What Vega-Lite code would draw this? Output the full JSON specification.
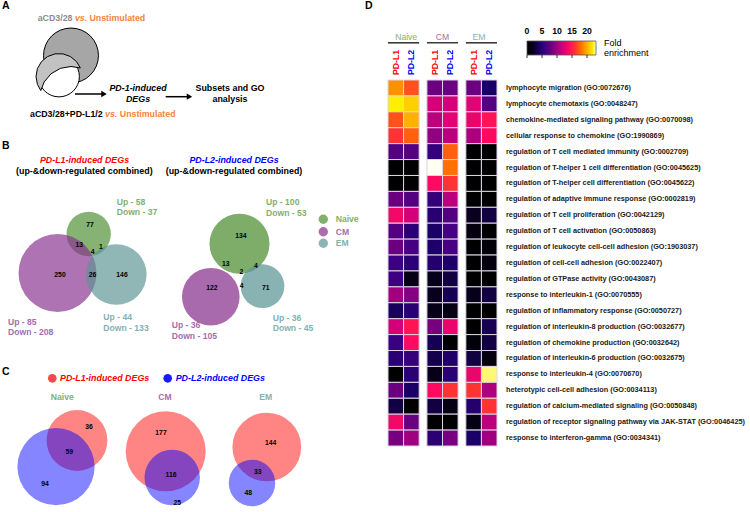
{
"$schema": "https://vega.github.io/schema/vega-lite/v6.json",
"width": 750, "height": 512, "autosize": "none", "padding": 0, "background": "white",
"config": {"font": "Liberation Sans", "view": {"stroke": null}, "axis": {"disable": true}, "legend": {"disable": true}},
"resolve": {"scale": {"x": "independent", "y": "independent", "color": "independent", "size": "independent", "xOffset": "independent"}},
"datasets": {
"heat": [
{"t":"lymphocyte migration (GO:0072676)","nL1":19,"nL2":17,"cL1":8,"cL2":8,"eL1":8,"eL2":4},
{"t":"lymphocyte chemotaxis (GO:0048247)","nL1":22,"nL2":21,"cL1":12,"cL2":12,"eL1":12.5,"eL2":7},
{"t":"chemokine-mediated signaling pathway (GO:0070098)","nL1":17,"nL2":20,"cL1":11,"cL2":12.5,"eL1":13,"eL2":14.5},
{"t":"cellular response to chemokine (GO:1990869)","nL1":16,"nL2":17.5,"cL1":9.5,"cL2":11,"eL1":10.5,"eL2":14},
{"t":"regulation of T cell mediated immunity (GO:0002709)","nL1":7,"nL2":7,"cL1":5.5,"cL2":17.5,"eL1":0,"eL2":0},
{"t":"regulation of T-helper 1 cell differentiation (GO:0045625)","nL1":0,"nL2":0,"cL1":23,"cL2":18,"eL1":0,"eL2":0},
{"t":"regulation of T-helper cell differentiation (GO:0045622)","nL1":0,"nL2":0,"cL1":14,"cL2":16,"eL1":0,"eL2":0},
{"t":"regulation of adaptive immune response (GO:0002819)","nL1":8,"nL2":7,"cL1":5.5,"cL2":11,"eL1":0,"eL2":0},
{"t":"regulation of T cell proliferation (GO:0042129)","nL1":13.5,"nL2":12,"cL1":4.8,"cL2":7,"eL1":2,"eL2":3},
{"t":"regulation of T cell activation (GO:0050863)","nL1":7,"nL2":5,"cL1":4,"cL2":6.5,"eL1":1,"eL2":0},
{"t":"regulation of leukocyte cell-cell adhesion (GO:1903037)","nL1":8,"nL2":6.5,"cL1":4.2,"cL2":6.5,"eL1":0,"eL2":0.5},
{"t":"regulation of cell-cell adhesion (GO:0022407)","nL1":6,"nL2":5,"cL1":4.5,"cL2":4.3,"eL1":0,"eL2":1},
{"t":"regulation of GTPase activity (GO:0043087)","nL1":6,"nL2":1.5,"cL1":1.8,"cL2":3,"eL1":0,"eL2":0},
{"t":"response to interleukin-1 (GO:0070555)","nL1":10,"nL2":9,"cL1":2,"cL2":3.5,"eL1":1.8,"eL2":3},
{"t":"regulation of inflammatory response (GO:0050727)","nL1":3.8,"nL2":4.8,"cL1":1.6,"cL2":1.4,"eL1":0,"eL2":0},
{"t":"regulation of interleukin-8 production (GO:0032677)","nL1":12,"nL2":14.5,"cL1":8.5,"cL2":13,"eL1":0,"eL2":3.5},
{"t":"regulation of chemokine production (GO:0032642)","nL1":5.8,"nL2":14,"cL1":3.5,"cL2":0,"eL1":0.5,"eL2":3},
{"t":"regulation of interleukin-6 production (GO:0032675)","nL1":5,"nL2":5.5,"cL1":3.3,"cL2":4.3,"eL1":3,"eL2":1},
{"t":"response to interleukin-4 (GO:0070670)","nL1":0,"nL2":5,"cL1":1.6,"cL2":5,"eL1":13,"eL2":22.5},
{"t":"heterotypic cell-cell adhesion (GO:0034113)","nL1":8,"nL2":4,"cL1":14,"cL2":16,"eL1":16,"eL2":10.5},
{"t":"regulation of calcium-mediated signaling (GO:0050848)","nL1":3,"nL2":0,"cL1":3,"cL2":1.4,"eL1":4.5,"eL2":16},
{"t":"regulation of receptor signaling pathway via JAK-STAT (GO:0046425)","nL1":13.5,"nL2":8,"cL1":0,"cL2":0,"eL1":1.4,"eL2":11},
{"t":"response to interferon-gamma (GO:0034341)","nL1":8.5,"nL2":10,"cL1":5,"cL2":8.5,"eL1":4,"eL2":10}
],
"cols": [
{"key":"nL1","s":"Naive","lig":"PD-L1"},{"key":"nL2","s":"Naive","lig":"PD-L2"},
{"key":"cL1","s":"CM","lig":"PD-L1"},{"key":"cL2","s":"CM","lig":"PD-L2"},
{"key":"eL1","s":"EM","lig":"PD-L1"},{"key":"eL2","s":"EM","lig":"PD-L2"}
],
"venn": [
{"v":"BL","set":"Naive","n":95,"x":88.7,"y":234},
{"v":"BL","set":"CM","n":293,"x":57.5,"y":273},
{"v":"BL","set":"EM","n":177,"x":116.3,"y":274.5},
{"v":"BR","set":"Naive","n":153,"x":239.5,"y":243.8},
{"v":"BR","set":"CM","n":141,"x":210.8,"y":296.7},
{"v":"BR","set":"EM","n":81,"x":262.5,"y":286.2},
{"v":"CN","set":"PD-L1","n":95,"x":77,"y":440.5},
{"v":"CN","set":"PD-L2","n":153,"x":56,"y":466.7},
{"v":"CC","set":"PD-L1","n":293,"x":165.7,"y":451.3},
{"v":"CC","set":"PD-L2","n":141,"x":172.2,"y":477.5},
{"v":"CE","set":"PD-L1","n":177,"x":266.8,"y":447},
{"v":"CE","set":"PD-L2","n":81,"x":252,"y":483}
],
"notes": [
{"grp":"letter","x":2,"y":6,"text":"A","key":"black"},
{"grp":"letter","x":2,"y":146,"text":"B","key":"black"},
{"grp":"letter","x":2,"y":372,"text":"C","key":"black"},
{"grp":"letter","x":365,"y":6,"text":"D","key":"black"},
{"grp":"boldL","x":37.7,"y":18.3,"text":"aCD3/28","key":"stim"},
{"grp":"boldL","x":89.5,"y":18.3,"text":"Unstimulated","key":"vs"},
{"grp":"boldL","x":30,"y":114,"text":"aCD3/28+PD-L1/2","key":"black"},
{"grp":"boldL","x":119.8,"y":114,"text":"Unstimulated","key":"vs"},
{"grp":"italL","x":74.9,"y":18.3,"text":"vs.","key":"vs"},
{"grp":"italL","x":105,"y":114,"text":"vs.","key":"vs"},
{"grp":"italL","x":60,"y":378.3,"text":"PD-L1-induced DEGs","key":"PD-L1"},
{"grp":"italL","x":175.7,"y":378.3,"text":"PD-L2-induced DEGs","key":"PD-L2"},
{"grp":"italC","x":138,"y":88.3,"text":"PD-1-induced","key":"black"},
{"grp":"italC","x":138,"y":99,"text":"DEGs","key":"black"},
{"grp":"italC","x":84.5,"y":160,"text":"PD-L1-induced DEGs","key":"PD-L1"},
{"grp":"italC","x":234,"y":160,"text":"PD-L2-induced DEGs","key":"PD-L2"},
{"grp":"boldC","x":230,"y":88.3,"text":"Subsets and GO","key":"black"},
{"grp":"boldC","x":230,"y":99,"text":"analysis","key":"black"},
{"grp":"boldC","x":84.3,"y":171,"text":"(up-&down-regulated combined)","key":"black"},
{"grp":"boldC","x":234,"y":171,"text":"(up-&down-regulated combined)","key":"black"},
{"grp":"num","x":90,"y":225,"text":"77","key":"black"},
{"grp":"num","x":79.3,"y":245,"text":"13","key":"black"},
{"grp":"num","x":101,"y":247.3,"text":"1","key":"black"},
{"grp":"num","x":92.7,"y":251.7,"text":"4","key":"black"},
{"grp":"num","x":60,"y":275,"text":"250","key":"black"},
{"grp":"num","x":92.5,"y":275,"text":"26","key":"black"},
{"grp":"num","x":122,"y":274.5,"text":"146","key":"black"},
{"grp":"num","x":240.8,"y":236,"text":"134","key":"black"},
{"grp":"num","x":225.8,"y":264,"text":"13","key":"black"},
{"grp":"num","x":255.8,"y":266,"text":"4","key":"black"},
{"grp":"num","x":241.5,"y":272,"text":"2","key":"black"},
{"grp":"num","x":211.8,"y":288.3,"text":"122","key":"black"},
{"grp":"num","x":241.7,"y":286.4,"text":"4","key":"black"},
{"grp":"num","x":265.8,"y":288.3,"text":"71","key":"black"},
{"grp":"num","x":89,"y":427,"text":"36","key":"black"},
{"grp":"num","x":69.3,"y":451.7,"text":"59","key":"black"},
{"grp":"num","x":45,"y":484.3,"text":"94","key":"black"},
{"grp":"num","x":161,"y":432.5,"text":"177","key":"black"},
{"grp":"num","x":171,"y":475,"text":"116","key":"black"},
{"grp":"num","x":177.3,"y":503,"text":"25","key":"black"},
{"grp":"num","x":270.7,"y":443,"text":"144","key":"black"},
{"grp":"num","x":257.7,"y":472,"text":"33","key":"black"},
{"grp":"num","x":248.3,"y":492.7,"text":"48","key":"black"},
{"grp":"updown","x":116.7,"y":201.5,"text":"Up - 58","key":"Naive"},
{"grp":"updown","x":116.7,"y":212.3,"text":"Down - 37","key":"Naive"},
{"grp":"updown","x":8,"y":321.7,"text":"Up - 85","key":"CM"},
{"grp":"updown","x":8,"y":332.3,"text":"Down - 208","key":"CM"},
{"grp":"updown","x":103.3,"y":317,"text":"Up - 44","key":"EM"},
{"grp":"updown","x":103.3,"y":327.5,"text":"Down - 133","key":"EM"},
{"grp":"updown","x":266,"y":202,"text":"Up - 100","key":"Naive"},
{"grp":"updown","x":266,"y":213,"text":"Down - 53","key":"Naive"},
{"grp":"updown","x":171.7,"y":325,"text":"Up - 36","key":"CM"},
{"grp":"updown","x":171.7,"y":335.7,"text":"Down - 105","key":"CM"},
{"grp":"updown","x":272.7,"y":317.5,"text":"Up - 36","key":"EM"},
{"grp":"updown","x":272.7,"y":328,"text":"Down - 45","key":"EM"},
{"grp":"legB","x":335.7,"y":219.3,"text":"Naive","key":"Naive"},
{"grp":"legB","x":335.7,"y":231.7,"text":"CM","key":"CM"},
{"grp":"legB","x":335.7,"y":243.3,"text":"EM","key":"EM"},
{"grp":"titleC","x":62.3,"y":397.3,"text":"Naive","key":"Naive"},
{"grp":"titleC","x":165,"y":397.3,"text":"CM","key":"CM"},
{"grp":"titleC","x":265.7,"y":397.3,"text":"EM","key":"EM"},
{"grp":"plainL","x":604,"y":43,"text":"Fold","key":"black"},
{"grp":"plainL","x":604,"y":53,"text":"enrichment","key":"black"}
]
},
"layer": [
{"data": {"values": [{"x":71,"y":55.5}]},
 "mark": {"type":"point","shape":"circle","filled":true,"size":3019,"color":"#a6a6a6","stroke":"#000000","strokeWidth":1,"opacity":1},
 "encoding": {"x": {"field":"x","type":"quantitative","scale":{"domain":[0,750],"nice":false,"zero":false}},
              "y": {"field":"y","type":"quantitative","scale":{"domain":[0,512],"nice":false,"zero":false,"reverse":true}}}},
{"data": {"values": [{"x":59,"y":76.5}]},
 "mark": {"type":"point","shape":"circle","filled":true,"size":1662,"color":"#ffffff","stroke":"#000000","strokeWidth":1,"opacity":1},
 "encoding": {"x": {"field":"x","type":"quantitative","scale":{"domain":[0,750],"nice":false,"zero":false}},
              "y": {"field":"y","type":"quantitative","scale":{"domain":[0,512],"nice":false,"zero":false,"reverse":true}}}},
{"data": {"values": [{"x":59,"y":76.5}]},
 "mark": {"type":"point","shape":"M0.928,-0.372L0.766,-0.643L0.5,-0.866L0.174,-0.985L-0.174,-0.985L-0.5,-0.866L-0.766,-0.643L-0.94,-0.342L-1,0L-0.94,0.342L-0.792,0.611L-0.645,0.239L-0.345,-0.12L0.061,-0.354L0.522,-0.435Z","filled":true,"size":2116,"color":"#c2c2c2","stroke":"#000000","strokeWidth":1,"opacity":1},
 "encoding": {"x": {"field":"x","type":"quantitative","scale":{"domain":[0,750],"nice":false,"zero":false}},
              "y": {"field":"y","type":"quantitative","scale":{"domain":[0,512],"nice":false,"zero":false,"reverse":true}}}},
{"data": {"values": [{"x":75,"x2":103,"y":94},{"x":165.7,"x2":188.5,"y":96.7}]},
 "mark": {"type":"rule","color":"#000000","strokeWidth":1.5},
 "encoding": {"x": {"field":"x","type":"quantitative","scale":{"domain":[0,750],"nice":false,"zero":false}},
              "x2": {"field":"x2"},
              "y": {"field":"y","type":"quantitative","scale":{"domain":[0,512],"nice":false,"zero":false,"reverse":true}}}},
{"data": {"values": [{"x":104,"y":94},{"x":189.5,"y":96.7}]},
 "mark": {"type":"point","shape":"triangle-right","filled":true,"size":40,"color":"#000000","opacity":1},
 "encoding": {"x": {"field":"x","type":"quantitative","scale":{"domain":[0,750],"nice":false,"zero":false}},
              "y": {"field":"y","type":"quantitative","scale":{"domain":[0,512],"nice":false,"zero":false,"reverse":true}}}},
{"data": {"name":"venn"}, "transform": [{"filter":"datum.v === 'BL'"}],
 "mark": {"type":"point","shape":"circle","filled":true,"opacity":0.68,"strokeWidth":0},
 "encoding": {"x": {"field":"x","type":"quantitative","scale":{"domain":[0,750],"nice":false,"zero":false}},
              "y": {"field":"y","type":"quantitative","scale":{"domain":[0,512],"nice":false,"zero":false,"reverse":true}},
              "size": {"field":"n","type":"quantitative","scale":{"type":"linear","domain":[0,100],"range":[0,2073]}},
              "color": {"field":"set","type":"nominal","scale":{"domain":["Naive","CM","EM"],"range":["#4c8d30","#86308d","#5b9494"]}}}},
{"data": {"name":"venn"}, "transform": [{"filter":"datum.v === 'BR'"}],
 "mark": {"type":"point","shape":"circle","filled":true,"opacity":0.72,"strokeWidth":0},
 "encoding": {"x": {"field":"x","type":"quantitative","scale":{"domain":[0,750],"nice":false,"zero":false}},
              "y": {"field":"y","type":"quantitative","scale":{"domain":[0,512],"nice":false,"zero":false,"reverse":true}},
              "size": {"field":"n","type":"quantitative","scale":{"type":"linear","domain":[0,100],"range":[0,2356]}},
              "color": {"field":"set","type":"nominal","scale":{"domain":["Naive","CM","EM"],"range":["#4c8d30","#86308d","#5b9494"]}}}},
{"data": {"name":"venn"}, "transform": [{"filter":"datum.v === 'CN'"}],
 "mark": {"type":"point","shape":"circle","filled":true,"opacity":0.48,"strokeWidth":0},
 "encoding": {"x": {"field":"x","type":"quantitative","scale":{"domain":[0,750],"nice":false,"zero":false}},
              "y": {"field":"y","type":"quantitative","scale":{"domain":[0,512],"nice":false,"zero":false,"reverse":true}},
              "size": {"field":"n","type":"quantitative","scale":{"type":"linear","domain":[0,100],"range":[0,3896]}},
              "color": {"field":"set","type":"nominal","scale":{"domain":["PD-L1","PD-L2"],"range":["#ff0000","#0000ff"]}}}},
{"data": {"name":"venn"}, "transform": [{"filter":"datum.v === 'CC'"}],
 "mark": {"type":"point","shape":"circle","filled":true,"opacity":0.48,"strokeWidth":0},
 "encoding": {"x": {"field":"x","type":"quantitative","scale":{"domain":[0,750],"nice":false,"zero":false}},
              "y": {"field":"y","type":"quantitative","scale":{"domain":[0,512],"nice":false,"zero":false,"reverse":true}},
              "size": {"field":"n","type":"quantitative","scale":{"type":"linear","domain":[0,100],"range":[0,2183]}},
              "color": {"field":"set","type":"nominal","scale":{"domain":["PD-L1","PD-L2"],"range":["#ff0000","#0000ff"]}}}},
{"data": {"name":"venn"}, "transform": [{"filter":"datum.v === 'CE'"}],
 "mark": {"type":"point","shape":"circle","filled":true,"opacity":0.48,"strokeWidth":0},
 "encoding": {"x": {"field":"x","type":"quantitative","scale":{"domain":[0,750],"nice":false,"zero":false}},
              "y": {"field":"y","type":"quantitative","scale":{"domain":[0,512],"nice":false,"zero":false,"reverse":true}},
              "size": {"field":"n","type":"quantitative","scale":{"type":"linear","domain":[0,100],"range":[0,2670]}},
              "color": {"field":"set","type":"nominal","scale":{"domain":["PD-L1","PD-L2"],"range":["#ff0000","#0000ff"]}}}},
{"data": {"values": [{"x":323.3,"y":219.3,"set":"Naive"},{"x":323.3,"y":231.7,"set":"CM"},{"x":323.3,"y":243.3,"set":"EM"}]},
 "mark": {"type":"point","shape":"circle","filled":true,"opacity":0.7,"size":88,"strokeWidth":0},
 "encoding": {"x": {"field":"x","type":"quantitative","scale":{"domain":[0,750],"nice":false,"zero":false}},
              "y": {"field":"y","type":"quantitative","scale":{"domain":[0,512],"nice":false,"zero":false,"reverse":true}},
              "color": {"field":"set","type":"nominal","scale":{"domain":["Naive","CM","EM"],"range":["#4c8d30","#86308d","#5b9494"]}}}},
{"data": {"values": [{"x":52.3,"y":378.3,"set":"PD-L1"},{"x":167.7,"y":378.3,"set":"PD-L2"}]},
 "mark": {"type":"point","shape":"circle","filled":true,"opacity":1,"size":75,"strokeWidth":0},
 "encoding": {"x": {"field":"x","type":"quantitative","scale":{"domain":[0,750],"nice":false,"zero":false}},
              "y": {"field":"y","type":"quantitative","scale":{"domain":[0,512],"nice":false,"zero":false,"reverse":true}},
              "color": {"field":"set","type":"nominal","scale":{"domain":["PD-L1","PD-L2"],"range":["#f24a4a","#1a1aff"]}}}},
{"data": {"name":"notes"}, "transform": [{"filter":"datum.grp === 'letter'"}],
 "mark": {"type":"text","align":"left","baseline":"middle","fontWeight":"bold","fontSize":10.5},
 "encoding": {"x": {"field":"x","type":"quantitative","scale":{"domain":[0,750],"nice":false,"zero":false}},
              "y": {"field":"y","type":"quantitative","scale":{"domain":[0,512],"nice":false,"zero":false,"reverse":true}},
              "text": {"field":"text"},
              "color": {"field":"key","type":"nominal","scale":{"domain":["Naive","CM","EM","PD-L1","PD-L2","stim","vs","black"],"range":["#82b06c","#a66cb0","#80b2b2","#ff0000","#0000ff","#8c8c8c","#f28444","#000000"]}}}},
{"data": {"name":"notes"}, "transform": [{"filter":"datum.grp === 'boldL'"}],
 "mark": {"type":"text","align":"left","baseline":"middle","fontWeight":"bold","fontSize":8.8},
 "encoding": {"x": {"field":"x","type":"quantitative","scale":{"domain":[0,750],"nice":false,"zero":false}},
              "y": {"field":"y","type":"quantitative","scale":{"domain":[0,512],"nice":false,"zero":false,"reverse":true}},
              "text": {"field":"text"},
              "color": {"field":"key","type":"nominal","scale":{"domain":["Naive","CM","EM","PD-L1","PD-L2","stim","vs","black"],"range":["#82b06c","#a66cb0","#80b2b2","#ff0000","#0000ff","#8c8c8c","#f28444","#000000"]}}}},
{"data": {"name":"notes"}, "transform": [{"filter":"datum.grp === 'italL'"}],
 "mark": {"type":"text","align":"left","baseline":"middle","fontWeight":"bold","fontStyle":"italic","fontSize":8.9},
 "encoding": {"x": {"field":"x","type":"quantitative","scale":{"domain":[0,750],"nice":false,"zero":false}},
              "y": {"field":"y","type":"quantitative","scale":{"domain":[0,512],"nice":false,"zero":false,"reverse":true}},
              "text": {"field":"text"},
              "color": {"field":"key","type":"nominal","scale":{"domain":["Naive","CM","EM","PD-L1","PD-L2","stim","vs","black"],"range":["#82b06c","#a66cb0","#80b2b2","#ff0000","#0000ff","#8c8c8c","#f28444","#000000"]}}}},
{"data": {"name":"notes"}, "transform": [{"filter":"datum.grp === 'italC'"}],
 "mark": {"type":"text","align":"center","baseline":"middle","fontWeight":"bold","fontStyle":"italic","fontSize":8.9},
 "encoding": {"x": {"field":"x","type":"quantitative","scale":{"domain":[0,750],"nice":false,"zero":false}},
              "y": {"field":"y","type":"quantitative","scale":{"domain":[0,512],"nice":false,"zero":false,"reverse":true}},
              "text": {"field":"text"},
              "color": {"field":"key","type":"nominal","scale":{"domain":["Naive","CM","EM","PD-L1","PD-L2","stim","vs","black"],"range":["#82b06c","#a66cb0","#80b2b2","#ff0000","#0000ff","#8c8c8c","#f28444","#000000"]}}}},
{"data": {"name":"notes"}, "transform": [{"filter":"datum.grp === 'boldC'"}],
 "mark": {"type":"text","align":"center","baseline":"middle","fontWeight":"bold","fontSize":8.9},
 "encoding": {"x": {"field":"x","type":"quantitative","scale":{"domain":[0,750],"nice":false,"zero":false}},
              "y": {"field":"y","type":"quantitative","scale":{"domain":[0,512],"nice":false,"zero":false,"reverse":true}},
              "text": {"field":"text"},
              "color": {"field":"key","type":"nominal","scale":{"domain":["Naive","CM","EM","PD-L1","PD-L2","stim","vs","black"],"range":["#82b06c","#a66cb0","#80b2b2","#ff0000","#0000ff","#8c8c8c","#f28444","#000000"]}}}},
{"data": {"name":"notes"}, "transform": [{"filter":"datum.grp === 'num'"}],
 "mark": {"type":"text","align":"center","baseline":"middle","fontWeight":"bold","fontSize":6.8,"color":"#000000"},
 "encoding": {"x": {"field":"x","type":"quantitative","scale":{"domain":[0,750],"nice":false,"zero":false}},
              "y": {"field":"y","type":"quantitative","scale":{"domain":[0,512],"nice":false,"zero":false,"reverse":true}},
              "text": {"field":"text"}}},
{"data": {"name":"notes"}, "transform": [{"filter":"datum.grp === 'updown' || datum.grp === 'legB'"}],
 "mark": {"type":"text","align":"left","baseline":"middle","fontWeight":"bold","fontSize":8.6},
 "encoding": {"x": {"field":"x","type":"quantitative","scale":{"domain":[0,750],"nice":false,"zero":false}},
              "y": {"field":"y","type":"quantitative","scale":{"domain":[0,512],"nice":false,"zero":false,"reverse":true}},
              "text": {"field":"text"},
              "color": {"field":"key","type":"nominal","scale":{"domain":["Naive","CM","EM","PD-L1","PD-L2","stim","vs","black"],"range":["#82b06c","#a66cb0","#80b2b2","#ff0000","#0000ff","#8c8c8c","#f28444","#000000"]}}}},
{"data": {"name":"notes"}, "transform": [{"filter":"datum.grp === 'titleC'"}],
 "mark": {"type":"text","align":"center","baseline":"middle","fontWeight":"bold","fontSize":8.6},
 "encoding": {"x": {"field":"x","type":"quantitative","scale":{"domain":[0,750],"nice":false,"zero":false}},
              "y": {"field":"y","type":"quantitative","scale":{"domain":[0,512],"nice":false,"zero":false,"reverse":true}},
              "text": {"field":"text"},
              "color": {"field":"key","type":"nominal","scale":{"domain":["Naive","CM","EM","PD-L1","PD-L2","stim","vs","black"],"range":["#82b06c","#a66cb0","#80b2b2","#ff0000","#0000ff","#8c8c8c","#f28444","#000000"]}}}},
{"data": {"name":"notes"}, "transform": [{"filter":"datum.grp === 'plainL'"}],
 "mark": {"type":"text","align":"left","baseline":"middle","fontSize":9,"color":"#000000"},
 "encoding": {"x": {"field":"x","type":"quantitative","scale":{"domain":[0,750],"nice":false,"zero":false}},
              "y": {"field":"y","type":"quantitative","scale":{"domain":[0,512],"nice":false,"zero":false,"reverse":true}},
              "text": {"field":"text"}}},
{"data": {"name":"heat"},
 "transform": [{"fold":["nL1","nL2","cL1","cL2","eL1","eL2"],"as":["key","fe"]},
               {"lookup":"key","from":{"data":{"name":"cols"},"key":"key","fields":["s","lig"]}}],
 "mark": {"type":"rect","stroke":"#dcd6e4","strokeWidth":1},
 "encoding": {"x": {"field":"s","type":"nominal","sort":null,"scale":{"domain":["Naive","CM","EM"],"range":[388,497],"paddingInner":0.2,"paddingOuter":0}},
              "xOffset": {"field":"lig","type":"nominal","scale":{"domain":["PD-L1","PD-L2"],"paddingInner":0,"paddingOuter":0}},
              "y": {"field":"t","type":"nominal","sort":null,"scale":{"range":[80,446],"paddingInner":0,"paddingOuter":0}},
              "color": {"field":"fe","type":"quantitative","scale":{"type":"linear","domain":[0,2,4,6,8,10,12,14,16,18,20,22,23],"range":["#000000","#08001e","#1a0066","#3c0082","#6a0080","#a00080","#d4007a","#ff0a60","#ff3333","#ff7000","#ffb000","#ffee00","#fffff0"],"interpolate":"rgb"}}}},
{"data": {"name":"heat"},
 "mark": {"type":"text","align":"left","baseline":"middle","fontWeight":"bold","fontSize":7.3,"color":"#1a1a1a"},
 "encoding": {"x": {"datum":506,"type":"quantitative","scale":{"domain":[0,750],"nice":false,"zero":false}},
              "y": {"field":"t","type":"nominal","sort":null,"scale":{"range":[80,446],"paddingInner":0,"paddingOuter":0}},
              "text": {"field":"t"}}},
{"data": {"name":"cols"}, "transform": [{"filter":"datum.lig === 'PD-L1'"}],
 "mark": {"type":"text","align":"center","baseline":"middle","fontSize":8.6},
 "encoding": {"x": {"field":"s","type":"nominal","sort":null,"scale":{"domain":["Naive","CM","EM"],"range":[388,497],"paddingInner":0.2,"paddingOuter":0}},
              "y": {"datum":37,"type":"quantitative","scale":{"domain":[0,512],"nice":false,"zero":false,"reverse":true}},
              "text": {"field":"s"},
              "color": {"field":"s","type":"nominal","scale":{"domain":["Naive","CM","EM"],"range":["#82b06c","#a66cb0","#80b2b2"]}}}},
{"data": {"name":"cols"}, "transform": [{"filter":"datum.lig === 'PD-L1'"}],
 "mark": {"type":"rect","color":"#3a3a3a"},
 "encoding": {"x": {"field":"s","type":"nominal","sort":null,"scale":{"domain":["Naive","CM","EM"],"range":[388,497],"paddingInner":0.2,"paddingOuter":0}},
              "y": {"datum":42,"type":"quantitative","scale":{"domain":[0,512],"nice":false,"zero":false,"reverse":true}},
              "y2": {"datum":43.6}}},
{"data": {"name":"cols"},
 "mark": {"type":"text","align":"center","baseline":"middle","fontWeight":"bold","fontSize":8.7,"angle":270},
 "encoding": {"x": {"field":"s","type":"nominal","sort":null,"scale":{"domain":["Naive","CM","EM"],"range":[388,497],"paddingInner":0.2,"paddingOuter":0}},
              "xOffset": {"field":"lig","type":"nominal","scale":{"type":"point","domain":["PD-L1","PD-L2"],"padding":0.5}},
              "y": {"datum":62.5,"type":"quantitative","scale":{"domain":[0,512],"nice":false,"zero":false,"reverse":true}},
              "text": {"field":"lig"},
              "color": {"field":"lig","type":"nominal","scale":{"domain":["PD-L1","PD-L2"],"range":["#ff0000","#0000ff"]}}}},
{"data": {"values": [{"lo":0,"hi":23}]},
 "mark": {"type":"rect","stroke":"#555555","strokeWidth":0.8,
          "fill":{"gradient":"linear","x1":0,"y1":0,"x2":1,"y2":0,"stops":[
            {"offset":0,"color":"#000000"},{"offset":0.087,"color":"#08001e"},{"offset":0.174,"color":"#1a0066"},
            {"offset":0.261,"color":"#3c0082"},{"offset":0.348,"color":"#6a0080"},{"offset":0.435,"color":"#a00080"},
            {"offset":0.522,"color":"#d4007a"},{"offset":0.609,"color":"#ff0a60"},{"offset":0.696,"color":"#ff3333"},
            {"offset":0.783,"color":"#ff7000"},{"offset":0.87,"color":"#ffb000"},{"offset":0.957,"color":"#ffee00"},
            {"offset":1,"color":"#fffff0"}]}},
 "encoding": {"x": {"field":"lo","type":"quantitative","scale":{"domain":[0,23],"range":[527,596],"nice":false,"zero":false}},
              "x2": {"field":"hi"},
              "y": {"datum":41,"type":"quantitative","scale":{"domain":[0,512],"nice":false,"zero":false,"reverse":true}},
              "y2": {"datum":55}}},
{"data": {"values": [{"v":0},{"v":5},{"v":10},{"v":15},{"v":20}]},
 "mark": {"type":"rule","color":"#000000","strokeWidth":0.8},
 "encoding": {"x": {"field":"v","type":"quantitative","scale":{"domain":[0,23],"range":[527,596],"nice":false,"zero":false}},
              "y": {"datum":55,"type":"quantitative","scale":{"domain":[0,512],"nice":false,"zero":false,"reverse":true}},
              "y2": {"datum":58}}},
{"data": {"values": [{"v":0},{"v":5},{"v":10},{"v":15},{"v":20}]},
 "mark": {"type":"text","align":"center","baseline":"middle","fontWeight":"bold","fontSize":8.7,"color":"#000000"},
 "encoding": {"x": {"field":"v","type":"quantitative","scale":{"domain":[0,23],"range":[527,596],"nice":false,"zero":false}},
              "y": {"datum":31,"type":"quantitative","scale":{"domain":[0,512],"nice":false,"zero":false,"reverse":true}},
              "text": {"field":"v","type":"quantitative"}}}
]
}
